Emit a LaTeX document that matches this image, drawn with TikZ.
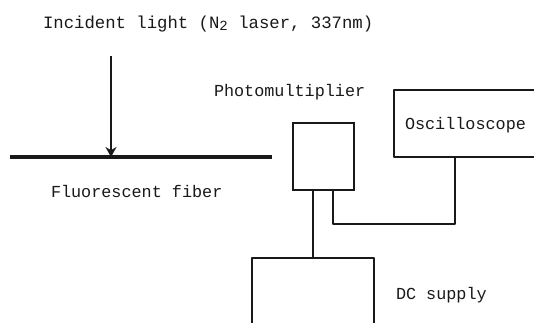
\documentclass[tikz,border=0pt]{standalone}
\usepackage{fontspec}
\usetikzlibrary{arrows.meta}
\setmainfont{Liberation Mono}
\tikzset{
  lbl/.style={inner sep=0pt,outer sep=0pt,font=\fontsize{16.8}{20}\selectfont,anchor=base west,text=black!90},
  wire/.style={line width=2.1pt,black!90,line join=round},
  thick wire/.style={line width=3.6pt,black!90},
  box/.style={draw=black!90,line width=2.1pt,inner sep=0pt,outer sep=0pt},
  open box/.style={inner sep=0pt,outer sep=0pt}
}
\begin{document}
\begin{tikzpicture}[x=1pt,y=-1pt]
\useasboundingbox (0,0) rectangle (534,323);
\fill[white] (0,0) rectangle (534,323);
% fibre and incident light
\coordinate (fa) at (10,157);
\coordinate (fb) at (272,157);
\coordinate (hit) at (111,157);
\coordinate (src) at (111,56);
\draw[thick wire] (fa) -- (fb);
\draw[wire,-{Stealth[length=10pt,width=11pt]}] (src) -- (hit);
% boxes
\node[box,minimum width=61pt,minimum height=67pt] (pmt) at (323.5,156.5) {};
\node[open box,minimum width=140pt,minimum height=67pt] (osc) at (464,123.5) {};
\node[open box,minimum width=122pt,minimum height=65pt] (dc) at (313,290.5) {};
\draw[wire] (osc.north east) -- (osc.north west) -- (osc.south west) -- (osc.south east);
\draw[wire] (dc.south west) -- (dc.north west) -- (dc.north east) -- (dc.south east);
% connectors
\draw[wire] (pmt.south -| dc.north) -- (dc.north);
\coordinate (pout) at (333,190);
\coordinate (oin) at (455,157);
\draw[wire] (pout) |- ([yshift=-34pt]pout -| oin) -- (oin);
% labels
\node[lbl,font=\fontsize{17.3}{20}\selectfont] (t1) at (43,29) {Incident light (N\raisebox{-2pt}{\fontsize{14}{14}\selectfont 2} laser, 337nm)};
\node[lbl] (t2) at (214,97) {Photomultiplier};
\node[lbl] (t3) at (405,130) {Oscilloscope};
\node[lbl] (t4) at (51,197) {Fluorescent fiber};
\node[lbl] (t5) at (396,299) {DC supply};
\end{tikzpicture}
\end{document}
